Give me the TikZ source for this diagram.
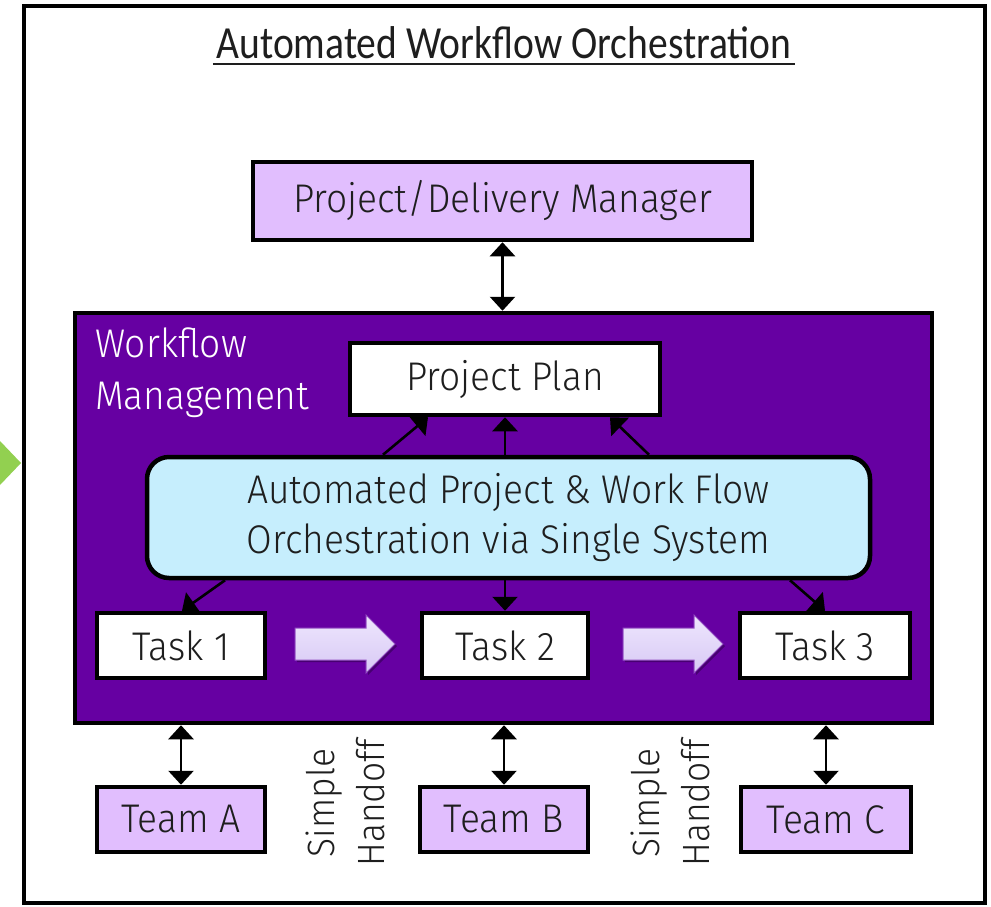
\documentclass[tikz,border=0pt]{standalone}
\usepackage{fontspec}
\setmainfont{Fira Sans Light}[FakeStretch=0.93]
\newfontfamily\titlefont{Carlito}[FakeStretch=0.86]
\usetikzlibrary{arrows.meta,calc,shadows}
\definecolor{wfpurple}{HTML}{6600A2}
\definecolor{lav}{HTML}{E1BEFE}
\definecolor{skyfill}{HTML}{C6EEFD}
\definecolor{leafgreen}{HTML}{92D050}
\definecolor{ink}{HTML}{1E1E1E}
\definecolor{arrowtop}{HTML}{EEE6FD}
\definecolor{arrowbot}{HTML}{D8C9F5}
\tikzset{
  box/.style={draw=black, line width=4.5pt, text=ink, inner sep=0pt,
    font=\fontsize{40}{48}\selectfont},
  lavbox/.style={box, fill=lav},
  whitebox/.style={box, fill=white},
  tip/.tip={Triangle[width=25pt,length=14pt]},
  link/.style={draw=black, line width=2.6pt, -tip},
  duplex/.style={draw=black, line width=2.6pt, tip-tip},
  handoff/.style={rotate=90, align=center, text=ink, font=\fontsize{38}{50}\selectfont},
  blockarrow/.style={top color=arrowtop, bottom color=arrowbot, draw=wfpurple!60!arrowbot, line width=1pt,
    drop shadow={opacity=0.3, shadow xshift=2pt, shadow yshift=-2pt, fill=black}}
}
\begin{document}
\begin{tikzpicture}[x=1pt,y=-1pt]
\useasboundingbox (0,0) rectangle (991,906);
% outer frame and side marker
\draw[line width=4pt] (24,6) rectangle (985,903);
\fill[leafgreen] (0,441) -- (21,463) -- (0,485) -- cycle;
% title
\node (title) at (504,43) {\titlefont\fontsize{46}{50}\selectfont\color{ink}Automated Workflow Orchestration};
\draw[line width=2pt, ink] ([yshift=-1pt]title.south west) -- ([yshift=-1pt]title.south east);
% manager
\node[lavbox, minimum width=499pt, minimum height=78pt] (pdm) at (502.5,201) {Project/Delivery Manager};
% workflow management area
\node[draw=black, fill=wfpurple, line width=4.5pt, minimum width=857pt, minimum height=410pt, inner sep=0pt] (wf) at (503.5,518) {};
\node[anchor=north west, align=left, text=white, inner sep=0pt, font=\fontsize{40}{52}\selectfont] (wflabel) at (95,328) {Workflow\\Management};
\node[whitebox, minimum width=310pt, minimum height=72pt] (plan) at (505,379) {Project Plan};
\node[draw=black, fill=skyfill, line width=4.5pt, rounded corners=22pt, minimum width=723pt, minimum height=121pt,
  align=center, text=ink, font=\fontsize{40}{50}\selectfont] (orch) at (508.5,517.5)
  {Automated Project \& Work Flow\\Orchestration via Single System};
% tasks
\node[whitebox, minimum width=168pt, minimum height=65pt] (t1) at (181,645.5) {Task 1};
\node[whitebox, minimum width=166pt, minimum height=65pt] (t2) at (505,645.5) {Task 2};
\node[whitebox, minimum width=170pt, minimum height=65pt] (t3) at (825,645.5) {Task 3};
% teams
\node[lavbox, minimum width=168pt, minimum height=65pt] (ta) at (181,819.5) {Team A};
\node[lavbox, minimum width=168pt, minimum height=65pt] (tb) at (504,819.5) {Team B};
\node[lavbox, minimum width=170pt, minimum height=65pt] (tc) at (826,819.5) {Team C};
% handoff notes
\node[handoff] (h1) at (345,803) {Simple\\Handoff};
\node[handoff] (h2) at (670,803) {Simple\\Handoff};
% block arrows between tasks
\path[blockarrow] (295,628) -- (366,628) -- (366,615) -- (395,644) -- (366,673) -- (366,660) -- (295,660) -- cycle;
\path[blockarrow] (623,628) -- (694,628) -- (694,615) -- (723,644) -- (694,673) -- (694,660) -- (623,660) -- cycle;
% connectors
\draw[duplex] (pdm.south) -- (pdm.south |- wf.north);
\draw[link] ([xshift=-125.5pt]orch.north) -- ([xshift=-77pt]plan.south);
\draw[link] (plan.south |- orch.north) -- (plan.south);
\draw[link] ([xshift=140.5pt]orch.north) -- ([xshift=105pt]plan.south);
\draw[link] ([xshift=-283.5pt]orch.south) -- ([xshift=1pt]t1.north);
\draw[link] (t2.north |- orch.south) -- (t2.north);
\draw[link] ([xshift=281.5pt]orch.south) -- (t3.north);
\draw[duplex] (ta.north |- wf.south) -- (ta.north);
\draw[duplex] (tb.north |- wf.south) -- (tb.north);
\draw[duplex] (tc.north |- wf.south) -- (tc.north);
\end{tikzpicture}
\end{document}
